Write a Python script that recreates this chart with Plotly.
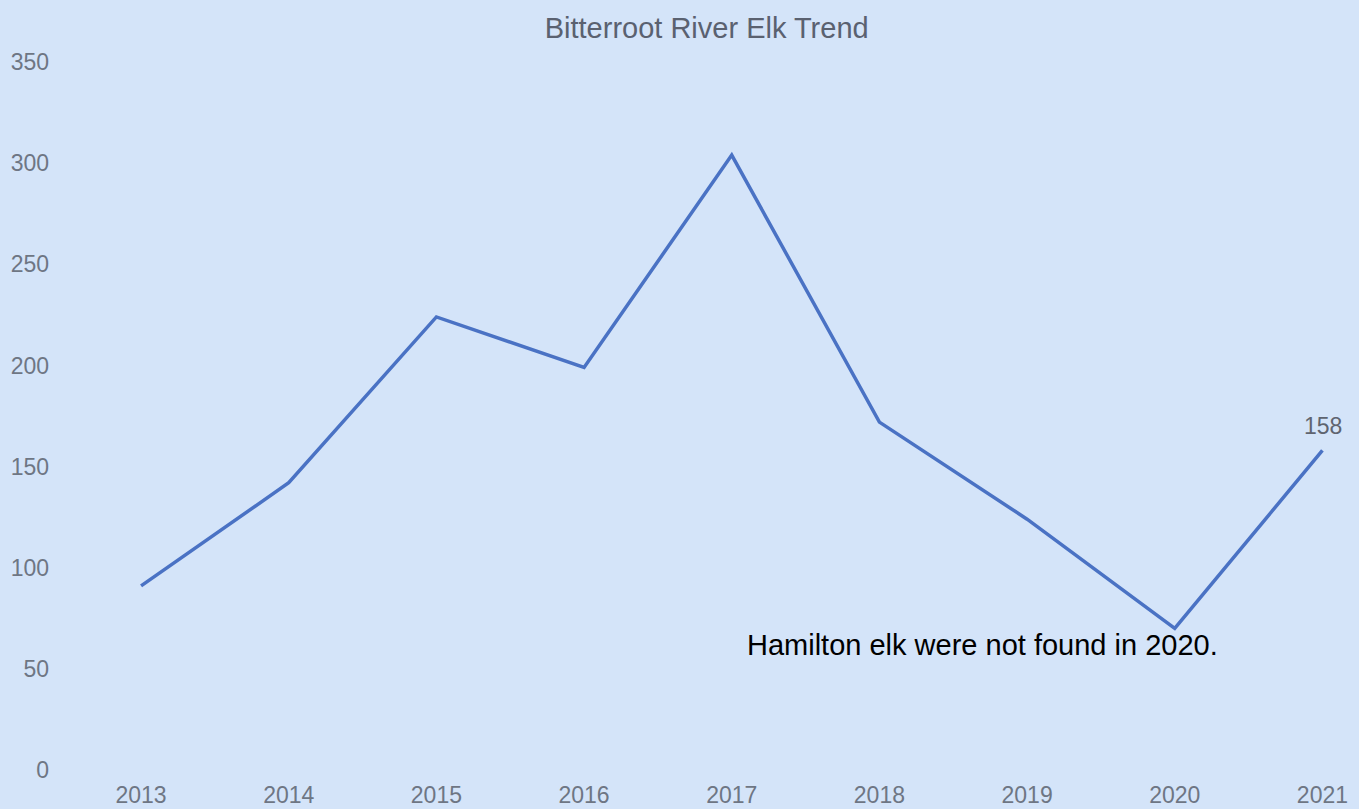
import plotly.graph_objects as go

# Elk counts by survey year
years = [2013, 2014, 2015, 2016, 2017, 2018, 2019, 2020, 2021]
elk_counts = [91, 142, 224, 199, 304, 172, 124, 70, 158]
y_ticks = [0, 50, 100, 150, 200, 250, 300, 350]

title_text = "Bitterroot River Elk Trend"
note_text = "Hamilton elk were not found in 2020."

BG = "#d4e4f9"
LINE = "#4a72c4"
GREY = "#6e7684"
FONT = "Arial, Liberation Sans, sans-serif"

fig = go.Figure()
fig.add_trace(go.Scatter(
    x=years, y=elk_counts, mode="lines",
    line=dict(color=LINE, width=3.5),
    hoverinfo="skip", showlegend=False,
))

# value label on the final year
fig.add_annotation(
    x=years[-1], y=elk_counts[-1], text=str(elk_counts[-1]),
    showarrow=False, yshift=24, xshift=1,
    font=dict(family=FONT, size=23, color="#5f6470"),
)

# explanatory note
fig.add_annotation(
    x=2018.70, y=62, text=note_text, showarrow=False,
    font=dict(family=FONT, size=29, color="#000000"),
)

fig.update_layout(
    width=1359, height=809,
    paper_bgcolor=BG, plot_bgcolor=BG,
    margin=dict(l=56, r=10, t=40, b=30, autoexpand=False),
    title=dict(text=title_text, x=0.52, xanchor="center", y=0.966, yanchor="middle",
               font=dict(family=FONT, size=29, color="#5a6170")),
    xaxis=dict(
        range=[2012.424, 2021.18], tickmode="array", tickvals=years,
        ticktext=[str(y) for y in years], showgrid=False, zeroline=False,
        showline=False, ticks="", automargin=False,
        tickfont=dict(family=FONT, size=23, color=GREY),
    ),
    yaxis=dict(
        range=[-4.45, 360.9], tickmode="array", tickvals=y_ticks,
        showgrid=False, zeroline=False, showline=False, ticks="",
        automargin=False, ticklabelstandoff=6,
        tickfont=dict(family=FONT, size=23, color=GREY),
    ),
)

fig.write_html("out.html")
